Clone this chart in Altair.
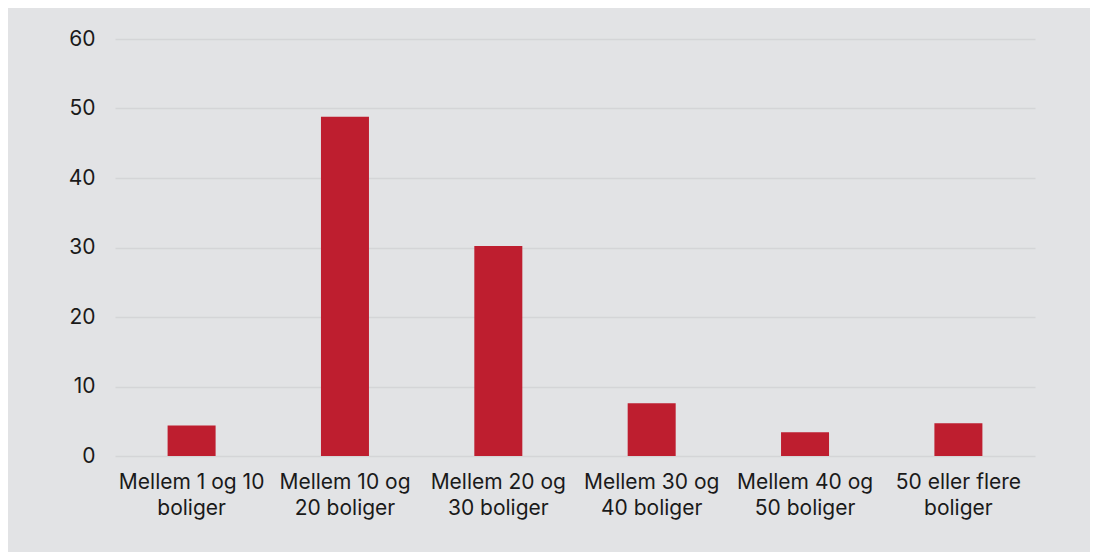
import altair as alt
import pandas as pd

categories = [
    "Mellem 1 og 10|boliger",
    "Mellem 10 og|20 boliger",
    "Mellem 20 og|30 boliger",
    "Mellem 30 og|40 boliger",
    "Mellem 40 og|50 boliger",
    "50 eller flere|boliger",
]
values = [4.4, 48.8, 30.2, 7.6, 3.4, 4.7]

df = pd.DataFrame({"kategori": categories, "andel": values})

bg = "#e2e3e5"
font = "Inter"

chart = (
    alt.Chart(df)
    .mark_bar(color="#be1e2f")
    .encode(
        x=alt.X(
            "kategori:N",
            sort=categories,
            title=None,
            scale=alt.Scale(paddingInner=0.687, paddingOuter=0.343),
            axis=alt.Axis(
                labelAngle=0,
                labelExpr="split(datum.label, '|')",
                labelFontSize=21,
                labelLineHeight=26,
                labelPadding=15,
                labelColor="#1a1a1a",
                labelFont=font,
                domain=False,
                ticks=False,
                grid=False,
            ),
        ),
        y=alt.Y(
            "andel:Q",
            title=None,
            scale=alt.Scale(domain=[0, 60]),
            axis=alt.Axis(
                values=[0, 10, 20, 30, 40, 50, 60],
                labelFontSize=21,
                labelPadding=20,
                labelColor="#1a1a1a",
                labelFont=font,
                domain=False,
                ticks=False,
                gridColor="#d4d5d7",
                gridWidth=1.5,
            ),
        ),
    )
    .properties(
        width=920,
        height=417,
        background=bg,
        autosize=alt.AutoSizeParams(type="none"),
        padding={"left": 107, "top": 31, "right": 55, "bottom": 96},
    )
    .configure_view(stroke=None)
)

chart.save("out.html", embed_options={"renderer": "svg", "actions": False})
